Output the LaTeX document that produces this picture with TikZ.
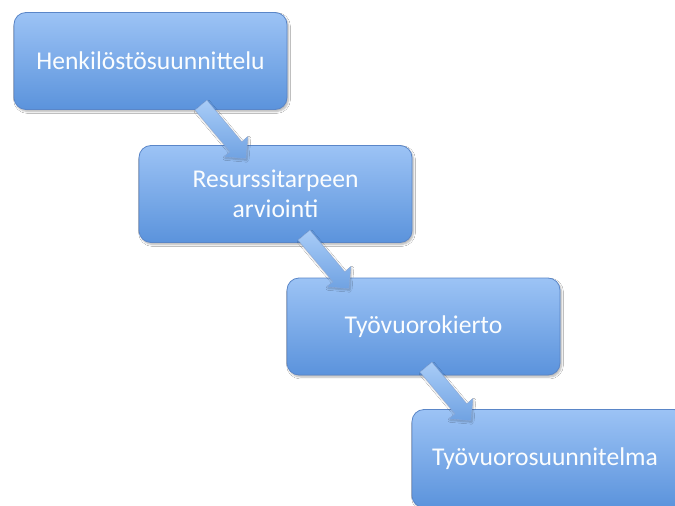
\documentclass[tikz,border=0pt]{standalone}
\usepackage{fontspec}
\setmainfont{Carlito}
\usetikzlibrary{shapes.arrows,shadows.blur,calc}
\definecolor{boxtop}{HTML}{9CC3F5}
\definecolor{boxbot}{HTML}{5B93DC}
\definecolor{boxline}{HTML}{5A86C8}
\definecolor{arrtop}{HTML}{A9CCF7}
\definecolor{arrbot}{HTML}{6FA2E2}
\tikzset{
  box/.style={draw=boxline, line width=0.8pt, rounded corners=12pt,
    top color=boxtop, bottom color=boxbot, minimum width=273pt,
    minimum height=97pt, text=white!96!boxtop, font=\fontsize{25.6}{30}\selectfont,
    align=center, inner sep=0pt,
    blur shadow={shadow xshift=1.5pt, shadow yshift=-2pt, shadow blur steps=6, shadow opacity=30}},
  blockarrow/.style={single arrow, draw=boxline!70, line width=0.4pt,
    top color=arrtop, bottom color=arrbot,
    minimum height=70pt, single arrow head extend=8pt,
    single arrow head indent=0pt, inner xsep=0pt, inner ysep=7.5pt, rotate=-50,
    blur shadow={shadow xshift=1pt, shadow yshift=-1.5pt, shadow blur steps=5, shadow opacity=25}}
}
\begin{document}
\begin{tikzpicture}[x=1pt,y=-1pt]
\useasboundingbox (0,0) rectangle (675,506);
\clip (0,0) rectangle (675,506);
\fill[white] (0,0) rectangle (675,506);
\node[box] (b1) at (150.5,61) {Henkilöstösuunnittelu};
\node[box] (b2) at (275.5,194) {Resurssitarpeen\\arviointi};
\node[box] (b3) at (423.5,326.5) {Työvuorokierto};
\node[box, minimum width=274pt, minimum height=98pt] (b4) at (549,458.5) {\hspace*{-8pt}Työvuorosuunnitelma};
\node[blockarrow] (a1) at (221,129) {};
\node[blockarrow] (a2) at (324,259) {};
\node[blockarrow] (a3) at (446,391) {};
\end{tikzpicture}
\end{document}
